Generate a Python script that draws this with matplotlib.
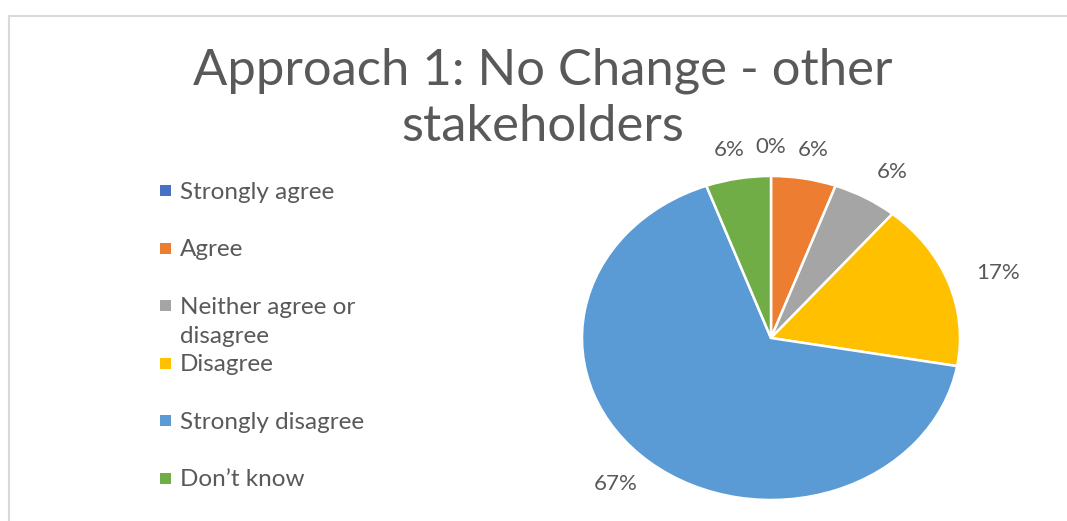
import numpy as np
import matplotlib
matplotlib.use('Agg')
from matplotlib import pyplot as plt
from matplotlib.lines import Line2D
from matplotlib.patches import Rectangle

# survey answers (counts of responses)
categories = ['Strongly agree', 'Agree', 'Neither agree or\ndisagree',
              'Disagree', 'Strongly disagree', 'Don\u2019t know']
counts = [0, 1, 1, 3, 12, 1]
colors = ['#4472C4', '#ED7D31', '#A5A5A5', '#FFC000', '#5B9BD5', '#70AD47']
title_lines = ['Approach 1: No Change - other', 'stakeholders']

W, H = 1067, 521
TXT = '#595959'
plt.rcParams['font.family'] = ['Lato', 'DejaVu Sans']

fig = plt.figure(figsize=(W / 100, H / 100), dpi=100)


def fx(px):
    return px / W


def fy(py):
    return 1 - py / H


# chart area border (only top and left visible in the crop)
fig.add_artist(Line2D([fx(9), fx(9)], [fy(16), 0], color='#d9d9d9', lw=1.5))
fig.add_artist(Line2D([fx(9), 1], [fy(16), fy(16)], color='#d9d9d9', lw=1.5))

# title
fig.text(fx(543), fy(85), title_lines[0], ha='center', va='baseline',
         fontsize=36.5, color=TXT)
fig.text(fx(543), fy(141), title_lines[1], ha='center', va='baseline',
         fontsize=36.5, color=TXT)

# pie, stretched horizontally like the source
ax = fig.add_axes([fx(582), fy(500), fx(960) - fx(582), (500 - 176) / H])
wedges, texts, autotexts = ax.pie(
    counts, colors=colors, startangle=90, counterclock=False,
    autopct=lambda p: f'{p:.0f}%', pctdistance=1.2,
    wedgeprops=dict(edgecolor='white', linewidth=1.8),
    textprops=dict(fontsize=16, color=TXT))
ax.set_aspect('auto')
ax.set_xlim(-1, 1)
ax.set_ylim(-1, 1)

# push labels out a bit more sideways, like Excel's "outside end"
for w, t in zip(wedges, autotexts):
    th = np.deg2rad((w.theta1 + w.theta2) / 2)
    t.set_position((1.28 * np.cos(th), 1.18 * np.sin(th)))

# legend drawn by hand to keep Excel-like spacing
for i, (lab, col) in enumerate(zip(categories, colors)):
    yc = 191 + 57.4 * i
    fig.add_artist(Rectangle((fx(160), fy(yc + 5.5)), fx(11), 11 / H,
                             color=col, lw=0))
    for j, line in enumerate(lab.split('\n')):
        fig.text(fx(180), fy(yc + 8 + 29 * j), line, ha='left',
                 va='baseline', fontsize=17.5, color=TXT)

fig.savefig('out.png', dpi=100)
